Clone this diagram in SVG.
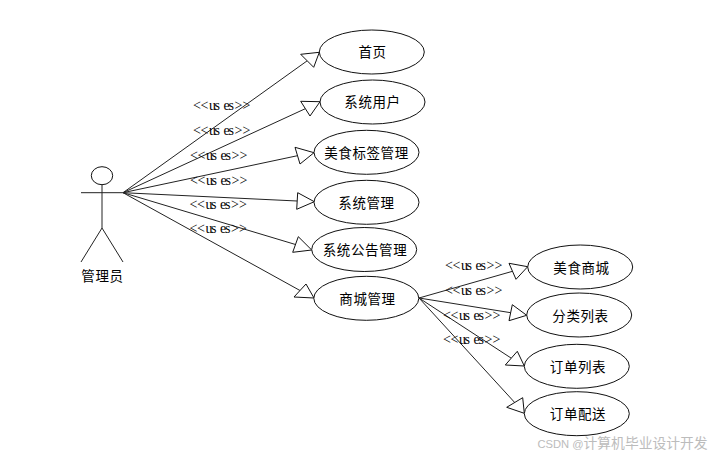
<svg xmlns="http://www.w3.org/2000/svg" width="718" height="456" viewBox="0 0 718 456">
<style>
text{fill:#000}
.n{font:13.5px "Noto Sans CJK SC","Liberation Sans",sans-serif;letter-spacing:.6px;text-anchor:middle;dominant-baseline:central}
.u{font:14px "Liberation Serif",serif}
ellipse,circle{fill:#fff;stroke:#111;stroke-width:1}
line{stroke:#222;stroke-width:1}
polygon{fill:#fff;stroke:#111;stroke-width:1}
.w{font:13.8px "Noto Sans CJK SC","Liberation Sans",sans-serif;fill:#bcbcbc}
.c{font:11.2px "Liberation Sans",sans-serif;fill:#bcbcbc}
</style>
<rect width="718" height="456" fill="#fff"/>
<g id="connectors">
<line x1="123" y1="192.7" x2="307.2" y2="60.8"/><polygon points="319.3,52.3 300.7,54.3 313.7,67.3"/>
<line x1="123" y1="192.7" x2="305.3" y2="108.7"/><polygon points="320,101.7 300.7,101.3 310,116"/>
<line x1="123" y1="192.7" x2="297.5" y2="155.7"/><polygon points="314,152.7 295,147.3 300,164"/>
<line x1="123" y1="192.7" x2="297.2" y2="201"/><polygon points="314.3,201.7 297.7,192.7 296.7,209.3"/>
<line x1="123" y1="192.7" x2="295.5" y2="244.5"/><polygon points="311.7,250 298.3,236.7 292.7,252.3"/>
<line x1="123" y1="192.7" x2="300" y2="290.5"/><polygon points="314,298 306,284 294,297"/>
<line x1="419" y1="298" x2="512.5" y2="271.3"/><polygon points="527.7,266.7 509,263.3 516,279.3"/>
<line x1="419" y1="298" x2="510.7" y2="312.7"/><polygon points="526.7,315.3 512.3,304.7 509,320.7"/>
<line x1="419" y1="298" x2="511.3" y2="358.2"/><polygon points="524.3,366 517.3,351.3 505.3,365"/>
<line x1="419" y1="298" x2="514.7" y2="402.5"/><polygon points="524.3,413.3 522.7,397.7 506.7,407.3"/>
</g>
<g id="labels">
<text class="u" x="193" y="110" dx="0 -0.4 0.5 -1.5 3.6 -1.2 0.6 0.1">&lt;&lt;uses&gt;&gt;</text>
<text class="u" x="193" y="135" dx="0 -0.4 0.5 -1.5 3.6 -1.2 0.6 0.1">&lt;&lt;uses&gt;&gt;</text>
<text class="u" x="190" y="160" dx="0 -0.4 0.5 -1.5 3.6 -1.2 0.6 0.1">&lt;&lt;uses&gt;&gt;</text>
<text class="u" x="190" y="185" dx="0 -0.4 0.5 -1.5 3.6 -1.2 0.6 0.1">&lt;&lt;uses&gt;&gt;</text>
<text class="u" x="189.5" y="209" dx="0 -0.4 0.5 -1.5 3.6 -1.2 0.6 0.1">&lt;&lt;uses&gt;&gt;</text>
<text class="u" x="189.5" y="233" dx="0 -0.4 0.5 -1.5 3.6 -1.2 0.6 0.1">&lt;&lt;uses&gt;&gt;</text>
<text class="u" x="445" y="270" dx="0 -0.4 0.5 -1.5 3.6 -1.2 0.6 0.1">&lt;&lt;uses&gt;&gt;</text>
<text class="u" x="445" y="295" dx="0 -0.4 0.5 -1.5 3.6 -1.2 0.6 0.1">&lt;&lt;uses&gt;&gt;</text>
<text class="u" x="443" y="320" dx="0 -0.4 0.5 -1.5 3.6 -1.2 0.6 0.1">&lt;&lt;uses&gt;&gt;</text>
<text class="u" x="443" y="344" dx="0 -0.4 0.5 -1.5 3.6 -1.2 0.6 0.1">&lt;&lt;uses&gt;&gt;</text>
</g>
<g id="actor">
<ellipse cx="102" cy="175.7" rx="10.7" ry="9"/>
<line x1="102" y1="184.7" x2="102" y2="228"/>
<line x1="81" y1="192.7" x2="123" y2="192.7"/>
<line x1="102" y1="228" x2="81" y2="262"/>
<line x1="102" y1="228" x2="123" y2="262"/>
<text class="n" x="102.5" y="275">管理员</text>
</g>
<g id="n1"><ellipse cx="371.8" cy="52" rx="52.5" ry="22"/><text class="n" x="372.5" y="51">首页</text></g>
<g id="n2"><ellipse cx="372.5" cy="102" rx="52.5" ry="22"/><text class="n" x="372.5" y="101">系统用户</text></g>
<g id="n3"><ellipse cx="366.5" cy="152.3" rx="52.5" ry="22"/><text class="n" x="366.5" y="151.5">美食标签管理</text></g>
<g id="n4"><ellipse cx="366.5" cy="202.3" rx="52.5" ry="22"/><text class="n" x="366.5" y="201.5">系统管理</text></g>
<g id="n5"><ellipse cx="364.2" cy="249.5" rx="52.5" ry="22"/><text class="n" x="365" y="249">系统公告管理</text></g>
<g id="n6"><ellipse cx="366.3" cy="298.3" rx="52.5" ry="22"/><text class="n" x="367.5" y="297.5">商城管理</text></g>
<g id="n7"><ellipse cx="580.2" cy="267" rx="52.5" ry="22"/><text class="n" x="581.5" y="266.5">美食商城</text></g>
<g id="n8"><ellipse cx="579.2" cy="315" rx="52.5" ry="22"/><text class="n" x="580.5" y="314.5">分类列表</text></g>
<g id="n9"><ellipse cx="576.8" cy="366.3" rx="52.5" ry="22"/><text class="n" x="578" y="365.5">订单列表</text></g>
<g id="n10"><ellipse cx="576.8" cy="413.7" rx="52.5" ry="22"/><text class="n" x="578" y="413">订单配送</text></g>
<text class="c" x="537.5" y="447.5">CSDN @</text>
<text class="w" x="583.5" y="448">计算机毕业设计开发</text>
</svg>
